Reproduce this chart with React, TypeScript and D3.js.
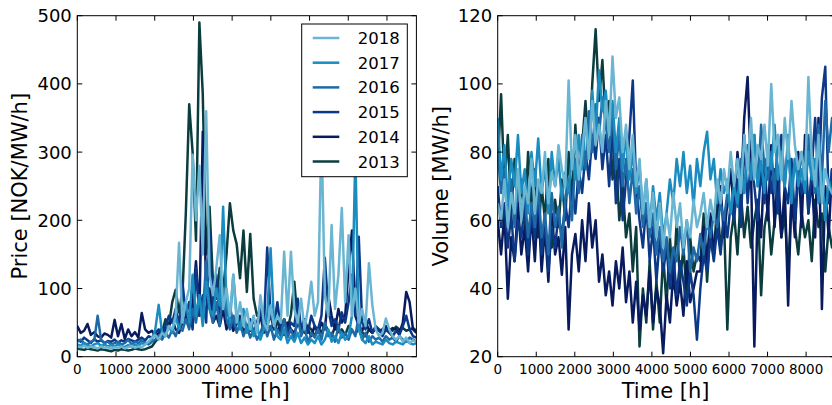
import React from "react";
import * as d3 from "d3";

const YEARS = ["2018", "2017", "2016", "2015", "2014", "2013"];
const COLORS = ["#6ab5d2", "#1a8cc0", "#1f6aa6", "#0c3888", "#081b5e", "#0b3d3f"];
const STEP_H = 87.6;
const T_MAX = 8760;
const X_TICKS = [0, 1000, 2000, 3000, 4000, 5000, 6000, 7000, 8000];
const PRICE_TICKS = [0, 100, 200, 300, 400, 500];
const VOLUME_TICKS = [20, 40, 60, 80, 100, 120];

const PRICE_2013 = [
  12, 11, 10, 12, 11, 10, 9, 11, 10, 9,
  8, 10, 9, 11, 10, 9, 10, 12, 11, 10,
  11, 13, 15, 22, 28, 35, 55, 45, 80, 98,
  65, 90, 210, 370, 300, 170, 490, 385, 150, 220,
  110, 85, 130, 95, 150, 225, 185, 165, 115, 185,
  95, 180, 85, 60, 70, 50, 45, 62, 40, 52,
  35, 55, 40, 62, 110, 50, 42, 35, 45, 40,
  30, 42, 35, 48, 38, 30, 44, 36, 40, 32,
  45, 38, 33, 42, 36, 30, 40, 35, 42, 38,
  36, 42, 40, 38, 44, 40, 42, 38, 40, 42,
  38,
];
const PRICE_2014 = [
  45, 35, 38, 48, 32, 36, 30, 28, 34, 32,
  28, 54, 30, 48, 26, 40, 30, 36, 28, 64,
  40, 35, 38, 30, 35, 42, 38, 45, 55, 40,
  35, 50, 60, 45, 80, 140, 60, 330, 90, 100,
  50, 60, 45, 70, 40, 55, 38, 48, 60, 35,
  45, 38, 55, 42, 60, 35, 48, 40, 50, 38,
  45, 32, 50, 40, 35, 48, 42, 55, 40, 30,
  45, 35, 50, 40, 90, 60, 40, 70, 50, 60,
  130, 185, 60, 45, 38, 50, 40, 35, 42, 38,
  40, 45, 38, 42, 40, 35, 50, 95, 80, 40,
  35,
];
const PRICE_2015 = [
  25, 22, 28, 24, 20, 26, 22, 24, 20, 23,
  22, 25, 20, 24, 22, 26, 24, 22, 25, 28,
  24, 30, 28, 35, 40, 30, 45, 60, 50, 70,
  45, 110, 60, 80, 40, 130, 60, 90, 50, 183,
  70, 120, 55, 90, 60, 75, 45, 65, 50, 60,
  40, 55, 35, 50, 70, 40, 160, 60, 45, 80,
  40, 55, 35, 50, 45, 85, 40, 55, 35, 60,
  45, 40, 60, 145, 70, 45, 55, 40, 65, 50,
  80, 120, 60, 176, 50, 40, 55, 35, 45, 40,
  30, 40, 35, 30, 38, 32, 45, 60, 40, 30,
  28,
];
const PRICE_2016 = [
  22, 25, 20, 18, 22, 24, 60, 25, 20, 22,
  18, 20, 22, 18, 20, 25, 18, 22, 20, 24,
  20, 18, 22, 25, 30, 25, 35, 28, 40, 30,
  45, 38, 55, 40, 70, 50, 90, 60, 140, 70,
  50, 80, 45, 100, 55, 40, 60, 35, 50, 30,
  45, 28, 40, 25, 35, 50, 30, 45, 25, 40,
  30, 55, 28, 40, 25, 60, 30, 45, 20, 35,
  28, 40, 25, 50, 30, 35, 22, 45, 28, 35,
  25, 40, 30, 60, 25, 35, 22, 30, 25, 28,
  22, 30, 25, 28, 22, 30, 25, 22, 28, 25,
  22,
];
const PRICE_2017 = [
  18, 16, 20, 17, 15, 18, 20, 16, 18, 15,
  17, 15, 18, 16, 14, 17, 15, 18, 16, 20,
  18, 22, 25, 40, 76, 35, 30, 45, 35, 60,
  40, 55, 80, 50, 120, 60, 90, 45, 110, 70,
  60, 100, 75, 220, 80, 50, 120, 60, 40, 70,
  35, 50, 30, 45, 25, 40, 60, 159, 50, 30,
  25, 40, 20, 30, 22, 35, 20, 28, 18, 25,
  20, 30, 18, 25, 40, 22, 30, 20, 35, 25,
  30, 60, 300, 40, 25, 20, 30, 18, 22, 20,
  18, 25, 20, 18, 22, 20, 18, 24, 20, 18,
  20,
];
const PRICE_2018 = [
  15, 14, 16, 13, 15, 14, 12, 15, 13, 14,
  12, 14, 13, 15, 12, 14, 16, 13, 15, 14,
  18, 22, 28, 32, 25, 35, 30, 45, 40, 60,
  167, 50, 80, 100, 296, 200, 280, 150, 360, 120,
  90, 130, 178, 70, 100, 60, 120, 50, 80, 45,
  70, 40, 60, 35, 90, 50, 40, 75, 45, 60,
  50, 154, 60, 154, 70, 50, 85, 40, 70, 110,
  60, 80, 330, 90, 60, 193, 70, 120, 218, 80,
  178, 60, 100, 50, 70, 45, 137, 76, 40, 30,
  35, 56, 40, 30, 25, 30, 22, 28, 20, 24,
  22,
];

const VOLUME_2013 = [
  75, 97, 70, 85, 62, 78, 60, 72, 58, 80,
  65, 75, 55, 70, 60, 78, 52, 66, 58, 72,
  60, 80, 65, 88, 70, 82, 95, 78, 100, 116,
  95, 107, 88, 95, 72, 80, 60, 70, 55, 62,
  45, 58, 23, 40, 30, 48, 28, 42, 30, 50,
  35, 55, 40, 60, 42, 52, 38, 55, 45, 50,
  48, 62, 42, 58, 50, 65, 52, 60, 28, 55,
  62, 50, 68, 55, 64, 52, 60, 66, 38, 58,
  64, 50, 60, 68, 55, 62, 45, 66, 58, 50,
  62, 55, 60, 48, 66, 58, 62, 45, 58, 52,
  56,
];
const VOLUME_2014 = [
  60, 50, 62, 37, 55, 48, 65, 50, 58, 45,
  62, 48, 66, 45, 58, 42, 62, 50, 55, 44,
  58, 28, 50, 56, 45, 60, 48, 65, 52, 60,
  42, 50, 38, 45, 35, 48, 40, 52, 36, 45,
  30, 42, 28, 38, 32, 45, 30, 40, 35, 21,
  38, 30, 45, 35, 42, 32, 48, 36, 40, 45,
  45, 58, 48, 62, 50, 60, 70, 55, 65, 75,
  62, 80, 68, 90, 102, 75, 23, 65, 55, 78,
  60, 82, 58, 75, 55, 70, 35, 68, 55, 80,
  58, 85, 62, 72, 55, 90, 34, 70, 55, 75,
  60,
];
const VOLUME_2015 = [
  70, 58, 65, 52, 62, 48, 60, 55, 65, 50,
  62, 55, 68, 50, 60, 45, 58, 52, 62, 55,
  65, 58, 70, 62, 75, 68, 80, 72, 85, 78,
  90, 75, 85, 70, 88, 65, 78, 60, 72, 85,
  101, 70, 60, 52, 65, 48, 58, 42, 55, 45,
  52, 40, 50, 38, 48, 42, 35, 45, 38, 25,
  40, 50, 45, 55, 48, 58, 50, 62, 55, 65,
  60, 72, 58, 85, 65, 78, 70, 60, 75, 65,
  80, 68, 75, 62, 85, 70, 65, 78, 60, 72,
  68, 80, 62, 75, 90, 70, 96, 105, 65, 75,
  70,
];
const VOLUME_2016 = [
  80, 68, 75, 60, 72, 58, 70, 62, 68, 55,
  65, 58, 70, 55, 62, 50, 68, 58, 64, 52,
  66, 72, 60, 78, 68, 85, 75, 92, 80, 94,
  85, 96, 88, 80, 92, 75, 85, 70, 78, 65,
  75, 62, 70, 58, 65, 55, 62, 50, 58, 48,
  55, 45, 52, 48, 58, 50, 60, 45, 52, 48,
  56, 50, 60, 55, 62, 58, 65, 60, 68, 62,
  70, 64, 78, 68, 82, 72, 85, 70, 88, 75,
  72, 80, 68, 85, 75, 70, 82, 68, 78, 72,
  80, 70, 85, 75, 68, 88, 72, 95, 80, 90,
  82,
];
const VOLUME_2017 = [
  90, 72, 82, 65, 78, 70, 85, 68, 75, 62,
  80, 70, 84, 68, 76, 62, 80, 70, 78, 66,
  74, 68, 80, 72, 85, 75, 90, 80, 98, 85,
  104, 92, 98, 85, 95, 80, 90, 75, 85, 72,
  80, 68, 76, 62, 72, 58, 70, 60, 68, 55,
  62, 72, 65, 78, 70, 80, 68, 76, 64, 78,
  70, 80, 86, 72, 78, 65, 75, 68, 72, 62,
  70, 65, 75, 68, 80, 72, 85, 70, 78, 68,
  82, 75, 88, 72, 80, 70, 85, 65, 78, 70,
  75, 68, 80, 72, 78, 65, 74, 60, 72, 68,
  70,
];
const VOLUME_2018 = [
  65, 60, 72, 58, 68, 62, 75, 60, 70, 65,
  78, 62, 72, 68, 80, 65, 74, 70, 82, 75,
  70, 101, 75, 85, 72, 80, 90, 78, 95, 82,
  88, 80, 95, 85, 108, 90, 96, 80, 88, 75,
  85, 70, 78, 62, 72, 58, 68, 55, 65, 52,
  62, 55, 68, 58, 65, 52, 60, 55, 66, 58,
  62, 68, 58, 66, 60, 72, 65, 75, 68, 80,
  70, 78, 68, 85, 75, 90, 72, 82, 78, 88,
  76, 100, 80, 85, 72, 90, 78, 95, 82, 75,
  80, 72, 102, 78, 70, 85, 65, 75, 70, 68,
  66,
];

const PRICE_SERIES = [PRICE_2018, PRICE_2017, PRICE_2016, PRICE_2015, PRICE_2014, PRICE_2013];
const VOLUME_SERIES = [VOLUME_2018, VOLUME_2017, VOLUME_2016, VOLUME_2015, VOLUME_2014, VOLUME_2013];

const FONT = "DejaVu Sans, sans-serif";

type PanelProps = {
  id: string;
  left: number;
  right: number;
  top: number;
  bottom: number;
  domain: [number, number];
  yTicks: number[];
  series: number[][];
  ylabel: string;
  ylabelX: number;
  legend?: boolean;
};

function Panel({ id, left, right, top, bottom, domain, yTicks, series, ylabel, ylabelX, legend }: PanelProps) {
  const x = d3.scaleLinear().domain([0, T_MAX]).range([left, right]);
  const y = d3.scaleLinear().domain(domain).range([bottom, top]);
  const line = d3
    .line<number>()
    .x((_, i) => x(i * STEP_H))
    .y((d) => y(d));
  const tl = 5;
  const order = [5, 4, 3, 2, 1, 0];
  const cy = (top + bottom) / 2;
  return (
    <g>
      <defs>
        <clipPath id={id}>
          <rect x={left} y={top} width={right - left} height={bottom - top} />
        </clipPath>
      </defs>
      <g clipPath={`url(#${id})`}>
        {order.map((k) => (
          <path
            key={k}
            d={line(series[k]) || ""}
            fill="none"
            stroke={COLORS[k]}
            strokeWidth={2.5}
            strokeLinejoin="round"
          />
        ))}
      </g>
      <rect x={left} y={top} width={right - left} height={bottom - top} fill="none" stroke="#000" strokeWidth={1} />
      {X_TICKS.map((t) => (
        <g key={"x" + t}>
          <line x1={x(t)} x2={x(t)} y1={bottom} y2={bottom - tl} stroke="#000" />
          <line x1={x(t)} x2={x(t)} y1={top} y2={top + tl} stroke="#000" />
          <text x={x(t)} y={bottom + 17} fontSize={13.5} textAnchor="middle" fontFamily={FONT}>
            {t}
          </text>
        </g>
      ))}
      {yTicks.map((t) => (
        <g key={"y" + t}>
          <line x1={left} x2={left + tl} y1={y(t)} y2={y(t)} stroke="#000" />
          <line x1={right} x2={right - tl} y1={y(t)} y2={y(t)} stroke="#000" />
          <text x={left - 5.5} y={y(t) + 6.5} fontSize={18} textAnchor="end" fontFamily={FONT}>
            {t}
          </text>
        </g>
      ))}
      <text x={(left + right) / 2 - 1} y={397.5} fontSize={21} textAnchor="middle" fontFamily={FONT}>
        Time [h]
      </text>
      <text
        transform={`translate(${ylabelX},${cy}) rotate(-90)`}
        fontSize={21}
        textAnchor="middle"
        fontFamily={FONT}
      >
        {ylabel}
      </text>
      {legend && (
        <g>
          <rect x={301.7} y={24} width={105.6} height={152.7} fill="#fff" stroke="#000" strokeWidth={1} />
          {YEARS.map((yr, k) => {
            const ly = 38 + k * 24.7;
            return (
              <g key={yr}>
                <line x1={312.7} x2={339.3} y1={ly} y2={ly} stroke={COLORS[k]} strokeWidth={2.5} />
                <text x={357.7} y={ly + 6} fontSize={16.5} fontFamily={FONT}>
                  {yr}
                </text>
              </g>
            );
          })}
        </g>
      )}
    </g>
  );
}

export default function App() {
  return (
    <svg
      width={832}
      height={405}
      style={{ position: "absolute", left: 0, top: 0, background: "#fff" }}
    >
      <rect x={0} y={0} width={832} height={405} fill="#fff" />
      <Panel
        id="clipA"
        left={77.3}
        right={416.4}
        top={15.7}
        bottom={356.7}
        domain={[0, 500]}
        yTicks={PRICE_TICKS}
        series={PRICE_SERIES}
        ylabel="Price [NOK/MW/h]"
        ylabelX={26.5}
        legend
      />
      <Panel
        id="clipB"
        left={497.7}
        right={835.4}
        top={15.7}
        bottom={356.7}
        domain={[20, 120]}
        yTicks={VOLUME_TICKS}
        series={VOLUME_SERIES}
        ylabel="Volume [MW/h]"
        ylabelX={447.5}
      />
    </svg>
  );
}
